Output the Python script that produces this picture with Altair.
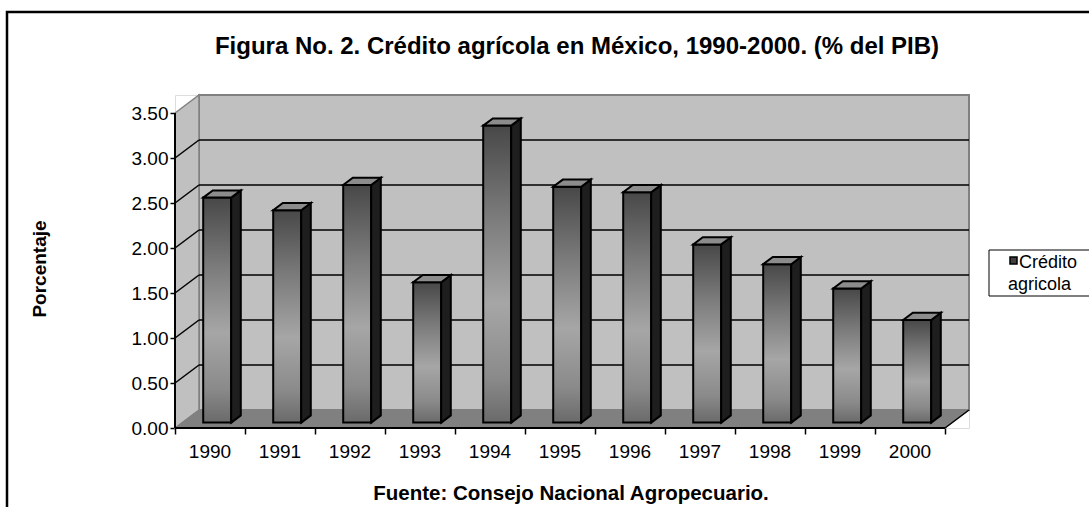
import altair as alt
import pandas as pd

# ---------------- data ----------------
years = ["1990", "1991", "1992", "1993", "1994", "1995", "1996", "1997", "1998", "1999", "2000"]
values = [2.50, 2.36, 2.64, 1.56, 3.30, 2.62, 2.56, 1.98, 1.76, 1.49, 1.14]
y_ticks = [0.0, 0.5, 1.0, 1.5, 2.0, 2.5, 3.0, 3.5]
grid_levels = [0.5, 1.0, 1.5, 2.0, 2.5, 3.0]
title_text = "Figura No. 2. Crédito agrícola en México, 1990-2000. (% del PIB)"
source_text = "Fuente: Consejo Nacional Agropecuario."
y_title = "Porcentaje"
legend_lines = ["Crédito", "agricola"]

# ---------------- geometry of the pseudo-3D frame ----------------
N = len(years)
YMAX = 3.5
DX = 24 / 70      # wall depth, in category units
DY = 0.2          # wall depth, in value units
BAR_L, BAR_R = 0.3, 0.7   # bar extent inside a category
D0, D1 = 0.3, 0.7         # bar front/back depth fraction
W, H = 794, 333
FONT = "Liberation Sans"

xs = alt.Scale(domain=[0, N + DX], nice=False, zero=False)
ys = alt.Scale(domain=[0, YMAX + DY], nice=False, zero=False)


# no axis=None here: in a shared layer that would disable the whole axis
def X(f):
    return alt.X(f"{f}:Q", scale=xs)


def Y(f):
    return alt.Y(f"{f}:Q", scale=ys, stack=None)


# ---------------- frame walls (this first layer defines the axes) ----------------
back_wall = alt.Chart(pd.DataFrame([{"x": DX, "x2": N + DX, "y": DY, "y2": YMAX + DY}])).mark_rect(
    fill="#C0C0C0", stroke="#808080", strokeWidth=2
).encode(
    x=alt.X("x:Q", scale=xs, axis=alt.Axis(
        values=list(range(N + 1)), labels=False, domain=False, grid=False,
        tickSize=6, tickColor="black", tickWidth=1.5, title=None)),
    x2="x2:Q",
    y=alt.Y("y:Q", scale=ys, axis=alt.Axis(
        values=y_ticks, format=".2f", domain=False, grid=False, tickSize=5,
        tickColor="black", tickWidth=1.5, labelFontSize=19, labelColor="black",
        labelFont=FONT, labelPadding=2, title=None)),
    y2="y2:Q",
)

left_wall = alt.Chart(pd.DataFrame([
    {"x": 0, "y": 0, "y2": YMAX},
    {"x": DX, "y": DY, "y2": YMAX + DY},
])).mark_area(fill="#C0C0C0", stroke="#808080", strokeWidth=1.5, orient="vertical").encode(
    x=X("x"), y=Y("y"), y2="y2:Q"
)

floor = alt.Chart(pd.DataFrame([
    {"x": 0, "y": 0, "y2": 0},
    {"x": DX, "y": 0, "y2": DY},
    {"x": N, "y": 0, "y2": DY},
    {"x": N + DX, "y": DY, "y2": DY},
])).mark_area(fill="#808080", stroke="#808080", strokeWidth=1, orient="vertical").encode(
    x=X("x"), y=Y("y"), y2="y2:Q"
)

grid_back = alt.Chart(pd.DataFrame({
    "x": [DX] * len(grid_levels),
    "x2": [N + DX] * len(grid_levels),
    "v": [g + DY for g in grid_levels],
})).mark_rule(color="black", strokeWidth=1.5).encode(x=X("x"), x2="x2:Q", y=Y("v"))

slant_rows = []
for g in grid_levels:
    slant_rows.append({"g": g, "x": 0, "y": g})
    slant_rows.append({"g": g, "x": DX, "y": g + DY})
grid_left = alt.Chart(pd.DataFrame(slant_rows)).mark_line(color="black", strokeWidth=1.5).encode(
    x=X("x"), y=Y("y"), detail="g:N"
)

floor_edge = alt.Chart(pd.DataFrame([{"x": N, "y": 0}, {"x": N + DX, "y": DY}])).mark_line(
    color="black", strokeWidth=1.5
).encode(x=X("x"), y=Y("y"))

y_axis_line = alt.Chart(pd.DataFrame([{"x": 0, "y": 0, "y2": YMAX}])).mark_rule(
    color="black", strokeWidth=2
).encode(x=X("x"), y=Y("y"), y2="y2:Q")

x_axis_line = alt.Chart(pd.DataFrame([{"x": 0, "x2": N, "y": 0}])).mark_rule(
    color="black", strokeWidth=2
).encode(x=X("x"), x2="x2:Q", y=Y("y"))

# ---------------- bars ----------------
front_rows, side_rows, top_rows = [], [], []
for i, (yr, v) in enumerate(zip(years, values)):
    front_rows.append({
        "year": yr, "v": v,
        "fx": i + BAR_L + D0 * DX, "fx2": i + BAR_R + D0 * DX,
        "fy": D0 * DY, "fy2": v + D0 * DY,
    })
    side_rows += [
        {"year": yr, "x": i + BAR_R + D0 * DX, "y": D0 * DY, "y2": v + D0 * DY},
        {"year": yr, "x": i + BAR_R + D1 * DX, "y": D1 * DY, "y2": v + D1 * DY},
    ]
    top_rows += [
        {"year": yr, "x": i + BAR_L + D0 * DX, "y": v + D0 * DY, "y2": v + D0 * DY},
        {"year": yr, "x": i + BAR_L + D1 * DX, "y": v + D0 * DY, "y2": v + D1 * DY},
        {"year": yr, "x": i + BAR_R + D0 * DX, "y": v + D0 * DY, "y2": v + D1 * DY},
        {"year": yr, "x": i + BAR_R + D1 * DX, "y": v + D1 * DY, "y2": v + D1 * DY},
    ]

side = alt.Chart(pd.DataFrame(side_rows)).mark_area(
    color="#1e1e1e", stroke="black", strokeWidth=2, orient="vertical"
).encode(x=X("x"), y=Y("y"), y2="y2:Q", detail="year:N")

top = alt.Chart(pd.DataFrame(top_rows)).mark_area(
    color="#8C8C8C", stroke="black", strokeWidth=2, orient="vertical"
).encode(x=X("x"), y=Y("y"), y2="y2:Q", detail="year:N")

front_grad = alt.Gradient(
    gradient="linear", x1=0, x2=0, y1=0, y2=1,
    stops=[
        alt.GradientStop(color="#484848", offset=0),
        alt.GradientStop(color="#7a7a7a", offset=0.3),
        alt.GradientStop(color="#a6a6a6", offset=0.6),
        alt.GradientStop(color="#8a8a8a", offset=0.85),
        alt.GradientStop(color="#6a6a6a", offset=1),
    ],
)

front = alt.Chart(pd.DataFrame(front_rows)).mark_rect(
    fill=front_grad, stroke="black", strokeWidth=2
).encode(x=X("fx"), x2="fx2:Q", y=Y("fy"), y2="fy2:Q")

# ---------------- texts ----------------
year_labels = alt.Chart(pd.DataFrame({"year": years, "c": [i + 0.5 for i in range(N)]})).mark_text(
    font=FONT, fontSize=19, color="black", align="center", baseline="middle"
).encode(x=X("c"), y=alt.value(H + 24), text="year:N")

one = pd.DataFrame({"a": [0]})

title = alt.Chart(one).mark_text(
    text=title_text, font=FONT, fontSize=24, fontWeight="bold", color="black",
    align="center", baseline="middle"
).encode(x=alt.value(402), y=alt.value(-48))

source = alt.Chart(one).mark_text(
    text=source_text, font=FONT, fontSize=20.5, fontWeight="bold", color="black",
    align="center", baseline="middle"
).encode(x=alt.value(396), y=alt.value(399))

ytitle = alt.Chart(one).mark_text(
    text=y_title, font=FONT, fontSize=19, fontWeight="bold", color="black",
    align="center", baseline="middle", angle=270
).encode(x=alt.value(-135), y=alt.value(174))

frame = alt.Chart(one).mark_rect(fill="transparent", stroke="black", strokeWidth=2.5).encode(
    x=alt.value(-168), x2=alt.value(960), y=alt.value(-83), y2=alt.value(440)
)

legend_box = alt.Chart(one).mark_rect(fill="white", stroke="black", strokeWidth=1).encode(
    x=alt.value(814), x2=alt.value(960), y=alt.value(155), y2=alt.value(201)
)
legend_sym = alt.Chart(one).mark_rect(fill="#404040", stroke="black", strokeWidth=1.5).encode(
    x=alt.value(835), x2=alt.value(842), y=alt.value(162), y2=alt.value(169)
)
legend_t1 = alt.Chart(one).mark_text(
    text=legend_lines[0], font=FONT, fontSize=18, color="black", align="left", baseline="alphabetic"
).encode(x=alt.value(844), y=alt.value(173))
legend_t2 = alt.Chart(one).mark_text(
    text=legend_lines[1], font=FONT, fontSize=18, color="black", align="left", baseline="alphabetic"
).encode(x=alt.value(833), y=alt.value(195))

chart = alt.layer(
    back_wall, frame, left_wall, floor, grid_back, grid_left, floor_edge,
    front, side, top, y_axis_line, x_axis_line,
    year_labels, title, source, ytitle, legend_box, legend_sym, legend_t1, legend_t2,
).properties(
    width=W, height=H, autosize="none",
    padding={"left": 175, "top": 95, "right": 120, "bottom": 79},
    background="white",
).configure_view(strokeWidth=0).configure(font=FONT)

chart.save("out.html", embed_options={"renderer": "svg", "actions": False})
